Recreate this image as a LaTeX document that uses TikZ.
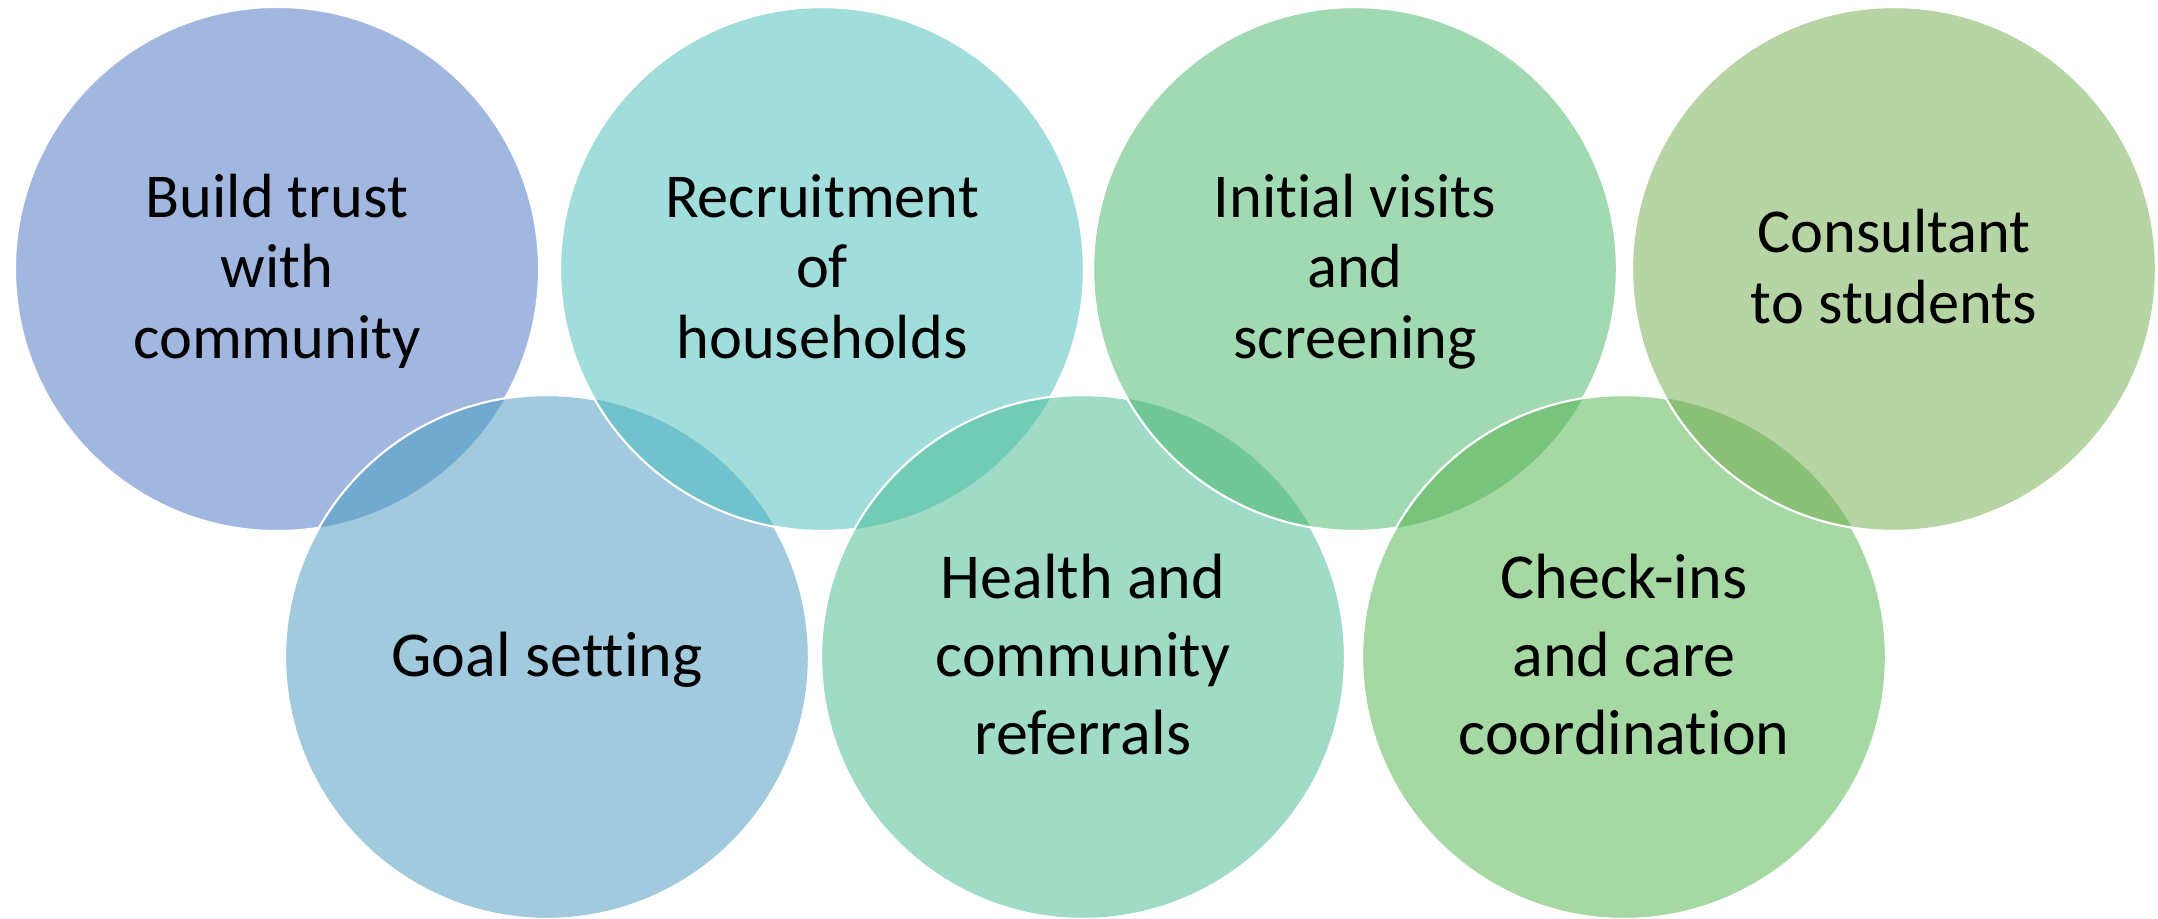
\documentclass[tikz,border=0pt]{standalone}
\usepackage{fontspec}
\setmainfont{Carlito}[Ligatures=NoCommon]
\definecolor{cA}{HTML}{A1B7E0}
\definecolor{cB}{HTML}{A1DEDB}
\definecolor{cC}{HTML}{A1D9B2}
\definecolor{cD}{HTML}{B7D5A4}
\definecolor{cG}{HTML}{A2CADF}
\definecolor{cH}{HTML}{A0DBC6}
\definecolor{cK}{HTML}{A5D8A2}
\definecolor{lAG}{HTML}{72A9CF}
\definecolor{lGB}{HTML}{70C3CC}
\definecolor{lBH}{HTML}{72CBB5}
\definecolor{lHC}{HTML}{71C796}
\definecolor{lCK}{HTML}{78C47C}
\definecolor{lKD}{HTML}{8BC177}
\newcommand{\tl}{\rule{0pt}{25pt}}
\newcommand{\bl}{\rule[-6pt]{0pt}{6pt}}
\tikzset{
  bub/.style={circle, minimum size=262pt, inner sep=0pt, outer sep=0pt,
    draw=white, line width=1pt, align=center, text=black},
  topfont/.style={font=\fontsize{31.2}{35.2}\selectfont},
  botfont/.style={font=\fontsize{32}{39}\selectfont},
  rim/.style={draw=white, line width=1pt}
}
\newcommand{\lens}[3]{%
  \begin{scope}
    \clip (#1.center) circle[radius=262];
    \fill[#3] (#2.center) circle[radius=262];
  \end{scope}
  \draw[rim] (#2.center) circle[radius=262];
}
\begin{document}
\begin{tikzpicture}[x=0.5pt, y=-0.5pt]
\useasboundingbox (0,0) rectangle (2158,919);
\node[bub, topfont, fill=cA] (a) at (277,269) {\tl Build trust\\with\\community\bl};
\node[bub, botfont, fill=cG] (g) at (547,657) {\tl Goal setting\bl};
\lens{a}{g}{lAG}
\node[bub, topfont, fill=cB] (b) at (822,269) {\tl Recruitment\\of\\households\bl};
\lens{g}{b}{lGB}
\node[bub, botfont, fill=cH] (h) at (1083,657) {\tl Health and\\community\\referrals\bl};
\lens{b}{h}{lBH}
\node[bub, topfont, fill=cC] (c) at (1355,269) {\tl Initial visits\\and\\screening\bl};
\lens{h}{c}{lHC}
\node[bub, botfont, fill=cK] (k) at (1624,657) {\tl Check-ins\\and care\\coordination\bl};
\lens{c}{k}{lCK}
\node[bub, topfont, fill=cD] (d) at (1894,269) {\tl Consultant\\to students\bl};
\lens{k}{d}{lKD}
\end{tikzpicture}
\end{document}
